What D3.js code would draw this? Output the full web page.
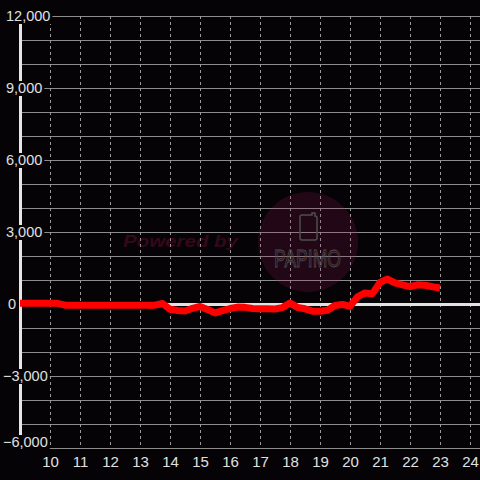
<!DOCTYPE html>
<html>
<head>
<meta charset="utf-8">
<script src="https://cdn.jsdelivr.net/npm/d3@7"></script>
<style>
  html, body { margin: 0; padding: 0; background: #050305; }
  svg { display: block; }
  text { font-family: "Liberation Sans", Arial, sans-serif; }
</style>
</head>
<body>
<div id="chart"></div>
<script>
'use strict'

// times in hours, one point every 15 minutes
const hours = [
  9.00, 9.25, 9.50, 9.75, 10.00, 10.25, 10.50, 10.75, 11.00, 11.25, 11.50, 11.75,
  12.00, 12.25, 12.50, 12.75, 13.00, 13.25, 13.50, 13.75, 14.00, 14.25, 14.50, 14.75,
  15.00, 15.25, 15.50, 15.75, 16.00, 16.25, 16.50, 16.75, 17.00, 17.25, 17.50, 17.75,
  18.00, 18.25, 18.50, 18.75, 19.00, 19.25, 19.50, 19.75, 20.00, 20.25, 20.50, 20.75,
  21.00, 21.25, 21.50, 21.75, 22.00, 22.25, 22.50, 22.75, 23.00
];
const balance = [
  30, 30, 30, 30, 30, 30, -50, -50, -50, -50, -50, -50,
  -50, -50, -50, -50, -50, -50, -50, 20, -220, -270, -290, -180,
  -100, -230, -370, -280, -190, -130, -140, -190, -200, -200, -210, -150,
  40, -140, -200, -300, -300, -260, -60, -20, -100, 300, 460, 430,
  900, 1040, 880, 800, 720, 800, 780, 720, 670
];
const xTicks = [10, 11, 12, 13, 14, 15, 16, 17, 18, 19, 20, 21, 22, 23, 24];
const yLabels = [12000, 9000, 6000, 3000, 0, -3000, -6000];

const W = 480, H = 480;
const svg = d3.select('#chart').append('svg')
  .attr('width', W)
  .attr('height', H);

svg.append('rect').attr('width', W).attr('height', H).attr('fill', '#050305');

let x = d3.scaleLinear().domain([9, 24]).range([20, 470]),
    y = d3.scaleLinear().domain([-6000, 12000]).range([448, 16]);

// horizontal grid, every 1000
svg.append('g')
  .selectAll('line')
  .data(y.ticks(18).filter(d => d !== 0))
  .join('line')
    .attr('x1', 22).attr('x2', W)
    .attr('y1', d => y(d) + 0.5).attr('y2', d => y(d) + 0.5)
    .attr('stroke', '#8c8c8c')
    .attr('stroke-width', 1);

// vertical dashed grid
svg.append('g')
  .selectAll('line')
  .data(xTicks)
  .join('line')
    .attr('x1', d => x(d) + 0.5).attr('x2', d => x(d) + 0.5)
    .attr('y1', y(12000)).attr('y2', y(-6000))
    .attr('stroke', '#9a9a9a')
    .attr('stroke-width', 1)
    .attr('stroke-dasharray', '3,3');

// watermark
let wm = svg.append('g');
wm.append('circle')
  .attr('cx', 308).attr('cy', 242).attr('r', 50)
  .attr('fill', 'rgba(150, 30, 90, 0.2)');
wm.append('text')
  .attr('x', 123).attr('y', 247)
  .attr('font-size', 17)
  .attr('font-weight', 'bold')
  .attr('font-style', 'italic')
  .attr('fill', 'rgba(170, 25, 80, 0.3)')
  .attr('textLength', 115)
  .attr('lengthAdjust', 'spacingAndGlyphs')
  .text('Powered by');
wm.append('path')
  .attr('d', 'M302,215 h10 v-2 h3 v3 a2,2 0 0 1 2,2 v20 a2,2 0 0 1 -2,2 h-13 a2,2 0 0 1 -2,-2 v-21 a2,2 0 0 1 2,-2 z')
  .attr('fill', 'none')
  .attr('stroke', '#4e4e4e')
  .attr('stroke-width', 1.5);
wm.append('text')
  .attr('x', 274).attr('y', 267)
  .attr('font-size', 23)
  .attr('font-family', '"DejaVu Sans", sans-serif')
  .attr('fill', 'none')
  .attr('stroke', '#505050')
  .attr('stroke-width', 0.8)
  .attr('textLength', 67)
  .attr('lengthAdjust', 'spacingAndGlyphs')
  .text('PAPIMO');

// zero line
svg.append('line')
  .attr('x1', 22).attr('x2', W)
  .attr('y1', y(0) + 0.5).attr('y2', y(0) + 0.5)
  .attr('stroke', '#e2e2e2')
  .attr('stroke-width', 3);

// y axis bar
svg.append('line')
  .attr('x1', 20.5).attr('x2', 20.5)
  .attr('y1', y(12000)).attr('y2', y(-6000))
  .attr('stroke', '#e6e6e6')
  .attr('stroke-width', 3);

// series
let line = d3.line()
  .x((d, i) => x(hours[i]))
  .y(d => y(d));

svg.append('path')
  .datum(balance)
  .attr('fill', 'none')
  .attr('stroke', '#ff0000')
  .attr('stroke-width', 7)
  .attr('stroke-linejoin', 'round')
  .attr('d', line);

// y labels with black boxes behind
let fmt = d3.format(',');
let yl = svg.append('g')
  .selectAll('g')
  .data(yLabels)
  .join('g')
    .attr('transform', d => 'translate(' + (d === 0 ? 8 : d < 0 ? 3 : 6) + ',' + Math.min(y(d), 442) + ')');
yl.append('text')
  .attr('dy', '0.36em')
  .attr('font-size', 14.5)
  .attr('fill', '#e0e0e0')
  .text(d => fmt(d))
  .each(function() {
    let b = this.getBBox();
    d3.select(this.parentNode).insert('rect', 'text')
      .attr('x', b.x - 2).attr('y', -7)
      .attr('width', b.width + 4).attr('height', 15)
      .attr('fill', '#050305');
  });

// x axis labels
let xAxis = d3.axisBottom(x).tickValues(xTicks).tickSize(0).tickPadding(0);
let gx = svg.append('g')
  .attr('transform', 'translate(0,454)')
  .call(xAxis);
gx.select('.domain').remove();
gx.selectAll('text')
  .attr('font-size', 15)
  .attr('font-family', '"Liberation Sans", Arial, sans-serif')
  .attr('fill', '#e0e0e0')
  .attr('dy', '0.85em');
</script>
</body>
</html>
